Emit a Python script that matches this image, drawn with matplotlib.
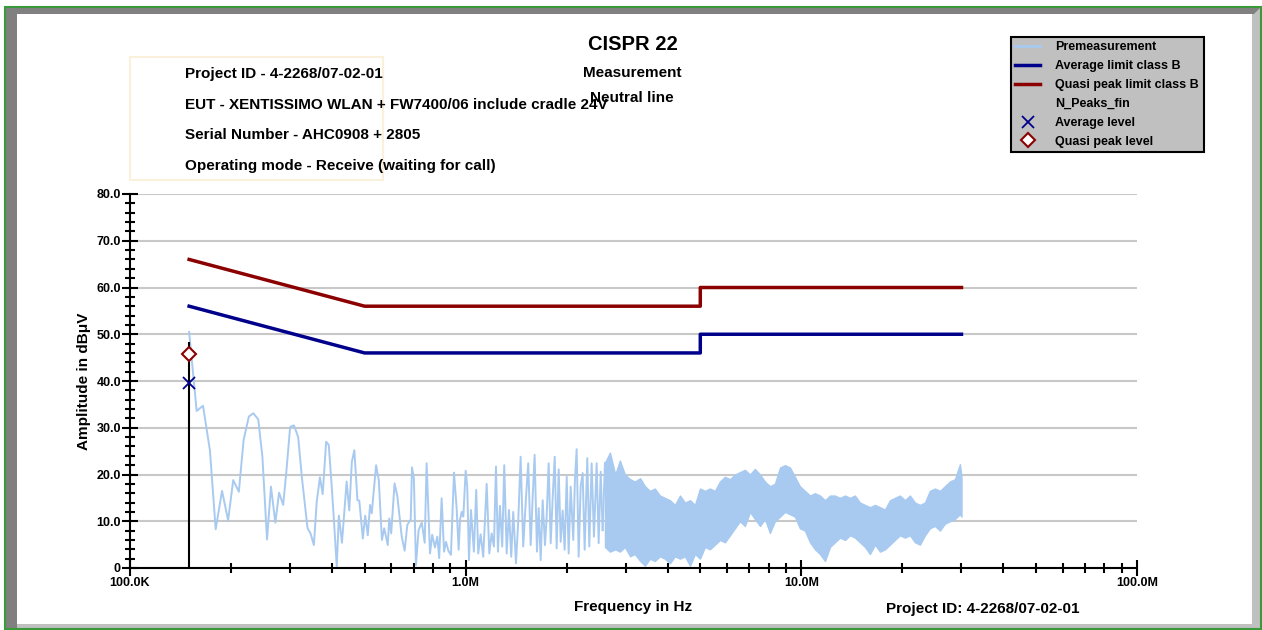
import matplotlib
matplotlib.use("Agg")
import matplotlib.pyplot as plt
from matplotlib.lines import Line2D
from matplotlib.patches import Rectangle, Polygon
from matplotlib.ticker import FixedLocator, NullFormatter
import numpy as np

plt.rcParams['font.family'] = ['Liberation Sans', 'DejaVu Sans']
plt.rcParams['font.weight'] = 'bold'

# premeasurement, low band (MHz, dBuV) - individual points
lo_freq = [0.150, 0.158, 0.165, 0.173, 0.180, 0.188, 0.196, 0.203, 0.211, 0.218,
           0.226, 0.233, 0.241, 0.248, 0.256, 0.263, 0.271, 0.278, 0.286, 0.292,
           0.300, 0.308, 0.317, 0.325, 0.338, 0.345, 0.353, 0.360, 0.368, 0.375,
           0.384, 0.391, 0.399, 0.405, 0.413, 0.419, 0.428, 0.442, 0.450, 0.458,
           0.466, 0.476, 0.482, 0.494, 0.502, 0.511, 0.519, 0.525, 0.541, 0.551,
           0.563, 0.572, 0.586, 0.592, 0.600, 0.614, 0.626, 0.645, 0.658, 0.670,
           0.686, 0.692, 0.701, 0.711, 0.724, 0.740, 0.755, 0.765, 0.783, 0.795,
           0.810, 0.823, 0.834, 0.848, 0.862, 0.874, 0.888, 0.904, 0.923, 0.940,
           0.953, 0.962, 0.973, 0.984, 1.000, 1.011, 1.023, 1.037, 1.058, 1.075,
           1.090, 1.108, 1.128, 1.155, 1.176, 1.195, 1.214, 1.231, 1.248, 1.265,
           1.285, 1.303, 1.325, 1.346, 1.367, 1.386, 1.412, 1.434, 1.458, 1.484,
           1.512, 1.536, 1.562, 1.583, 1.605, 1.631, 1.650, 1.673, 1.696, 1.723,
           1.743, 1.767, 1.792, 1.817, 1.842, 1.867, 1.893, 1.919, 1.945, 1.972,
           2.000, 2.027, 2.055, 2.092, 2.116, 2.141, 2.171, 2.201, 2.231, 2.262,
           2.303, 2.335, 2.373, 2.411, 2.456, 2.490, 2.525, 2.559]
lo_level = [50.5, 33.6, 34.7, 25.2, 8.3, 16.5, 10.2, 18.8, 16.3, 27.4,
            32.4, 33.1, 31.8, 23.8, 6.1, 17.4, 9.7, 16.1, 13.5, 20.3,
            30.2, 30.5, 28.0, 19.5, 8.5, 7.4, 4.9, 14.2, 19.4, 15.8,
            27.0, 26.3, 17.4, 10.3, 0.3, 11.2, 5.4, 18.5, 12.3, 22.7,
            25.2, 14.5, 14.4, 6.3, 11.2, 7.0, 13.5, 11.7, 22.0, 18.8,
            6.0, 8.5, 4.9, 10.6, 7.4, 18.1, 15.3, 6.7, 3.7, 9.2,
            10.4, 21.5, 19.2, 0.6, 8.1, 9.7, 5.4, 22.4, 3.1, 7.1,
            4.4, 6.7, 2.1, 14.9, 3.5, 5.6, 3.7, 2.8, 20.4, 12.8,
            3.9, 10.3, 12.0, 11.0, 20.8, 17.4, 1.7, 12.4, 3.5, 16.7,
            3.1, 7.2, 2.4, 18.0, 3.1, 7.4, 4.6, 21.7, 3.5, 13.3,
            4.6, 22.0, 3.1, 12.4, 2.4, 12.0, 1.0, 9.9, 23.8, 4.6,
            14.9, 22.4, 4.9, 14.9, 24.2, 3.5, 12.8, 1.7, 14.5, 4.9,
            11.0, 22.4, 5.3, 15.3, 23.8, 4.2, 21.1, 5.6, 12.3, 3.9,
            19.5, 3.1, 17.4, 6.0, 18.8, 25.4, 2.4, 17.4, 20.3, 3.9,
            23.5, 4.6, 22.4, 6.7, 22.4, 5.3, 20.6, 8.1]

# premeasurement, dense band: upper / lower envelope of the trace
env_freq = [2.60, 2.69, 2.79, 2.88, 2.98, 3.09, 3.19, 3.31, 3.42, 3.54,
            3.66, 3.79, 3.92, 4.06, 4.20, 4.35, 4.50, 4.66, 4.82, 4.99,
            5.16, 5.34, 5.53, 5.72, 5.92, 6.13, 6.34, 6.56, 6.79, 7.03,
            7.27, 7.53, 7.79, 8.06, 8.34, 8.64, 8.94, 9.25, 9.57, 9.90,
            10.25, 10.61, 10.98, 11.36, 11.76, 12.17, 12.59, 13.03, 13.49, 13.96,
            14.44, 14.95, 15.47, 16.01, 16.57, 17.15, 17.75, 18.37, 19.00, 19.67,
            20.35, 21.06, 21.80, 22.56, 23.35, 24.15, 25.00, 25.88, 26.78, 27.71,
            28.68, 29.68, 30.00]
env_hi = [22.5, 24.7, 20.0, 23.0, 20.0, 19.0, 18.5, 19.2, 17.5, 16.5,
          17.0, 15.5, 15.0, 14.5, 13.5, 15.5, 14.0, 14.5, 13.5, 17.0,
          16.5, 17.0, 16.5, 18.5, 19.5, 19.0, 20.0, 20.5, 21.0, 20.0,
          21.2, 20.0, 18.5, 17.5, 18.0, 21.5, 22.0, 21.5, 19.5, 17.5,
          16.5, 15.5, 16.0, 15.5, 14.5, 15.5, 15.5, 15.0, 15.5, 15.0,
          15.5, 14.0, 13.5, 13.0, 13.5, 13.0, 12.5, 14.5, 15.0, 15.5,
          14.5, 15.5, 14.0, 13.5, 14.0, 16.5, 17.0, 16.5, 17.5, 18.5,
          19.0, 22.2, 19.5]
env_lo = [4.5, 3.5, 4.0, 3.5, 4.5, 2.5, 3.0, 1.5, 0.5, 2.0,
          1.5, 2.5, 2.0, 1.0, 2.5, 2.0, 2.5, 0.5, 3.0, 2.0,
          4.5, 4.0, 5.0, 6.0, 5.5, 7.0, 8.5, 10.0, 9.0, 12.0,
          10.5, 9.0, 10.5, 7.5, 10.0, 11.0, 12.0, 11.5, 11.0, 8.5,
          8.0, 5.5, 4.0, 3.0, 1.5, 4.5, 5.5, 6.5, 6.0, 7.0,
          6.5, 5.5, 4.5, 3.0, 5.0, 3.5, 4.0, 5.0, 6.0, 7.0,
          6.5, 7.0, 5.5, 5.0, 7.0, 8.5, 9.0, 8.0, 9.5, 10.0,
          10.5, 11.5, 11.0]

# CISPR 22 class B limits
lim_freq = [0.15, 0.5, 5.0, 5.0, 30.0]
qp_limit = [66, 56, 56, 60, 60]
av_limit = [56, 46, 46, 50, 50]

# final measurement
peak_freq = 0.15
peak_stick = 48.4
qp_level = 45.8
av_level = 39.5

W, H = 1262, 630
fig = plt.figure(figsize=(W / 100, H / 100), dpi=100)
fig.patch.set_facecolor('white')

# window frame
bg = fig.add_axes([0, 0, 1, 1], zorder=-5)
bg.set_xlim(0, W)
bg.set_ylim(H, 0)
bg.axis('off')
bg.add_patch(Rectangle((5, 7), W - 6, H - 8, facecolor='#c0c0c0', edgecolor='none'))
bg.add_patch(Polygon([(5, 7), (W - 1, 7), (W - 8, 14), (17, 14), (17, H - 2), (5, H - 2)],
                     closed=True, facecolor='#808080', edgecolor='none'))
bg.add_patch(Rectangle((17, 14), W - 27, H - 20, facecolor='white', edgecolor='none'))
bg.add_patch(Rectangle((5, 7), W - 6, H - 8, facecolor='none', edgecolor='#3a9a3a', lw=1.5))
# info box
bg.add_patch(Rectangle((130, 57), 253, 123, facecolor='none', edgecolor='#fbf0dc', lw=1.5))

ax = fig.add_axes([130 / W, 1 - 568 / H, (1137 - 130) / W, 374 / H])
ax.set_xscale('log')
ax.set_xlim(1e5, 1e8)
ax.set_ylim(0, 80)
ax.patch.set_alpha(0)

for spine in ['top', 'right']:
    ax.spines[spine].set_visible(False)
ax.spines['left'].set_linewidth(1.5)
ax.spines['bottom'].set_linewidth(1.5)

ax.set_yticks(np.arange(0, 81, 10))
ax.set_yticklabels(['0'] + ['%.1f' % v for v in range(10, 81, 10)])
ax.yaxis.set_minor_locator(FixedLocator(np.arange(0, 81, 2)))
ax.set_xticks([1e5, 1e6, 1e7, 1e8])
ax.set_xticklabels(['100.0K', '1.0M', '10.0M', '100.0M'])
minors = [m * 10 ** e for e in range(5, 8) for m in range(2, 10)]
ax.xaxis.set_minor_locator(FixedLocator(minors))
ax.xaxis.set_minor_formatter(NullFormatter())
ax.tick_params(axis='both', which='major', direction='inout', length=11, width=1.5,
               labelsize=9, pad=1)
ax.tick_params(axis='both', which='minor', direction='inout', length=7, width=1.5)
for lab in ax.get_xticklabels() + ax.get_yticklabels():
    lab.set_fontweight('bold')

ax.yaxis.grid(True, color='#c8c8c8', lw=1.5)
ax.set_axisbelow(True)

trace_col = '#a8caf0'
fq = np.array(lo_freq) * 1e6
ax.plot(fq, lo_level, color=trace_col, lw=1.4, zorder=2)
ef = np.array(env_freq) * 1e6
ax.plot([fq[-1], ef[0]], [lo_level[-1], env_hi[0]], color=trace_col, lw=1.4, zorder=2)
ax.fill_between(ef, env_lo, env_hi, color=trace_col, lw=1.0, edgecolor=trace_col, zorder=2)

lf = np.array(lim_freq) * 1e6
ax.plot(lf, qp_limit, color='#8b0000', lw=2.5, zorder=3)
ax.plot(lf, av_limit, color='#00008b', lw=2.5, zorder=3)

ax.vlines(peak_freq * 1e6, 0, peak_stick, color='black', lw=1.5, zorder=4)
ax.plot(peak_freq * 1e6, av_level, marker='x', color='#00008b', ms=8, mew=1.3, ls='none', zorder=5)
ax.plot(peak_freq * 1e6, qp_level, marker='D', mfc='white', mec='#8b0000', ms=7, mew=1.5,
        ls='none', zorder=5)

ax.set_xlabel('Frequency in Hz', fontsize=11, fontweight='bold', labelpad=8)
ax.set_ylabel('Amplitude in dBμV', fontsize=11, fontweight='bold', labelpad=4)

fig.text(633 / W, 1 - 45 / H, 'CISPR 22', fontsize=14.5, fontweight='bold', ha='center', va='center')
fig.text(632 / W, 1 - 73 / H, 'Measurement', fontsize=11, fontweight='bold', ha='center', va='center')
fig.text(632 / W, 1 - 98 / H, 'Neutral line', fontsize=11, fontweight='bold', ha='center', va='center')

info = ['Project ID - 4-2268/07-02-01',
        'EUT - XENTISSIMO WLAN + FW7400/06 include cradle 24V',
        'Serial Number - AHC0908 + 2805',
        'Operating mode - Receive (waiting for call)']
for i, t in enumerate(info):
    fig.text(185 / W, 1 - (74 + 30.7 * i) / H, t, fontsize=11, fontweight='bold',
             ha='left', va='center')

fig.text(983 / W, 1 - 609 / H, 'Project ID: 4-2268/07-02-01', fontsize=11,
         fontweight='bold', ha='center', va='center')

handles = [Line2D([], [], color=trace_col, lw=2),
           Line2D([], [], color='#00008b', lw=2.5),
           Line2D([], [], color='#8b0000', lw=2.5),
           Line2D([], [], color='none'),
           Line2D([], [], marker='x', color='#00008b', ls='none', ms=8, mew=1.3),
           Line2D([], [], marker='D', mfc='white', mec='#8b0000', ls='none', ms=7, mew=1.5)]
labels = ['Premeasurement', 'Average limit class B', 'Quasi peak limit class B',
          'N_Peaks_fin', 'Average level', 'Quasi peak level']
leg = fig.legend(handles, labels, loc='upper left', bbox_to_anchor=(1011 / W, 1 - 37 / H),
                 prop={'weight': 'bold', 'size': 9}, frameon=True, fancybox=False,
                 facecolor='#c0c0c0', edgecolor='black', framealpha=1, borderaxespad=0,
                 labelspacing=0.55, handlelength=2.0, handletextpad=1.2, borderpad=0.35)
leg.get_frame().set_linewidth(1.5)

fig.savefig('out.png', dpi=100)
